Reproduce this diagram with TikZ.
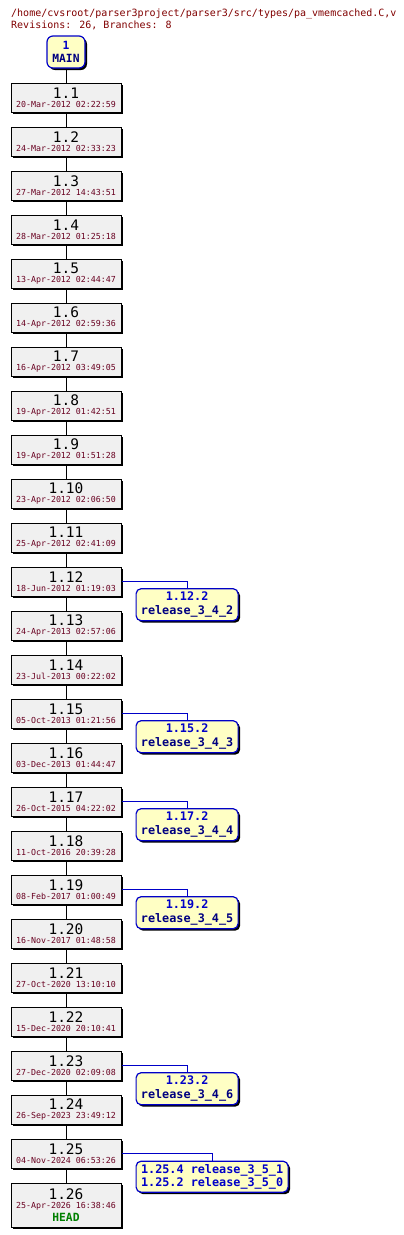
\documentclass[tikz,border=0pt]{standalone}
\usepackage{fontspec}
\setmainfont{DejaVu Sans Mono}
\usetikzlibrary{positioning, shadows}

\definecolor{titlered}{RGB}{128,0,0}
\definecolor{datered}{RGB}{104,0,32}
\definecolor{revgray}{RGB}{240,240,240}
\definecolor{tagyellow}{RGB}{255,255,196}
\definecolor{tagblue}{RGB}{0,0,200}
\definecolor{tagnavy}{RGB}{0,0,128}
\definecolor{headgreen}{RGB}{0,128,0}

\newcommand{\revfont}{\fontsize{14.5}{9.5}\selectfont}
\newcommand{\datefont}{\fontsize{8.3}{9.5}\selectfont\color{datered}}
\newcommand{\tagfont}{\fontsize{11.8}{13.5}\selectfont\bfseries}
\newcommand{\revtext}[2]{#1\\{\datefont #2}}

\begin{document}
\begin{tikzpicture}[
        x=1pt, y=-1pt,
        node distance=14pt,
        shade/.style={drop shadow={shadow xshift=2pt, shadow yshift=-2pt, opacity=1, fill=black}},
        rev/.style={rectangle, draw, line width=1pt, fill=revgray, minimum width=110pt, minimum height=29pt, inner sep=0pt, align=center, font=\revfont, shade},
        tag/.style={rectangle, rounded corners=5pt, draw=tagblue, line width=1.2pt, fill=tagyellow, minimum width=102pt, minimum height=32pt, inner sep=0pt, align=center, font=\tagfont, shade},
        link/.style={draw, line width=1pt},
        branchlink/.style={draw=tagblue, line width=1pt}
    ]
    \useasboundingbox (0,0) rectangle (404,1235);

    % Header
    \node[anchor=base west, font=\fontsize{10}{12}\selectfont, text=titlered, inner sep=0pt] (path) at (11,16) {/home/cvsroot/parser3project/parser3/src/types/pa\_vmemcached.C,v};
    \node[anchor=base west, font=\fontsize{10}{12}\selectfont, text=titlered, inner sep=0pt] (count) at (11,28) {Revisions: 26, Branches: 8};

    % Trunk head
    \node[tag, rounded corners=6pt, minimum width=38pt, minimum height=32pt, font=\fontsize{11.3}{13}\selectfont\bfseries] (main) at (66,52) {{\color{tagblue}1}\\{\color{tagnavy}MAIN}};

    % Revisions on the trunk
    \node[rev, below=of main] (r1) {\revtext{1.1}{20-Mar-2012 02:22:59}};
    \node[rev, below=of r1] (r2) {\revtext{1.2}{24-Mar-2012 02:33:23}};
    \node[rev, below=of r2] (r3) {\revtext{1.3}{27-Mar-2012 14:43:51}};
    \node[rev, below=of r3] (r4) {\revtext{1.4}{28-Mar-2012 01:25:18}};
    \node[rev, below=of r4] (r5) {\revtext{1.5}{13-Apr-2012 02:44:47}};
    \node[rev, below=of r5] (r6) {\revtext{1.6}{14-Apr-2012 02:59:36}};
    \node[rev, below=of r6] (r7) {\revtext{1.7}{16-Apr-2012 03:49:05}};
    \node[rev, below=of r7] (r8) {\revtext{1.8}{19-Apr-2012 01:42:51}};
    \node[rev, below=of r8] (r9) {\revtext{1.9}{19-Apr-2012 01:51:28}};
    \node[rev, below=of r9] (r10) {\revtext{1.10}{23-Apr-2012 02:06:50}};
    \node[rev, below=of r10] (r11) {\revtext{1.11}{25-Apr-2012 02:41:09}};
    \node[rev, below=of r11] (r12) {\revtext{1.12}{18-Jun-2012 01:19:03}};
    \node[rev, below=of r12] (r13) {\revtext{1.13}{24-Apr-2013 02:57:06}};
    \node[rev, below=of r13] (r14) {\revtext{1.14}{23-Jul-2013 00:22:02}};
    \node[rev, below=of r14] (r15) {\revtext{1.15}{05-Oct-2013 01:21:56}};
    \node[rev, below=of r15] (r16) {\revtext{1.16}{03-Dec-2013 01:44:47}};
    \node[rev, below=of r16] (r17) {\revtext{1.17}{26-Oct-2015 04:22:02}};
    \node[rev, below=of r17] (r18) {\revtext{1.18}{11-Oct-2016 20:39:28}};
    \node[rev, below=of r18] (r19) {\revtext{1.19}{08-Feb-2017 01:00:49}};
    \node[rev, below=of r19] (r20) {\revtext{1.20}{16-Nov-2017 01:48:58}};
    \node[rev, below=of r20] (r21) {\revtext{1.21}{27-Oct-2020 13:10:10}};
    \node[rev, below=of r21] (r22) {\revtext{1.22}{15-Dec-2020 20:10:41}};
    \node[rev, below=of r22] (r23) {\revtext{1.23}{27-Dec-2020 02:09:08}};
    \node[rev, below=of r23] (r24) {\revtext{1.24}{26-Sep-2023 23:49:12}};
    \node[rev, below=of r24] (r25) {\revtext{1.25}{04-Nov-2024 06:53:26}};
    \node[rev, minimum height=44pt, below=of r25] (r26) {\revtext{1.26}{25-Apr-2026 16:38:46}\\[2.5pt]{\fontsize{11.3}{13}\selectfont\bfseries\color{headgreen}HEAD}};

    % Branch tags
    \node[tag, below right=6.5pt and 14pt of r12.east] (b12) {{\color{tagblue}1.12.2}\\{\color{tagnavy}release\_3\_4\_2}};
    \node[tag, below right=6.5pt and 14pt of r15.east] (b15) {{\color{tagblue}1.15.2}\\{\color{tagnavy}release\_3\_4\_3}};
    \node[tag, below right=6.5pt and 14pt of r17.east] (b17) {{\color{tagblue}1.17.2}\\{\color{tagnavy}release\_3\_4\_4}};
    \node[tag, below right=6.5pt and 14pt of r19.east] (b19) {{\color{tagblue}1.19.2}\\{\color{tagnavy}release\_3\_4\_5}};
    \node[tag, below right=6.5pt and 14pt of r23.east] (b23) {{\color{tagblue}1.23.2}\\{\color{tagnavy}release\_3\_4\_6}};
    \node[tag, minimum width=152pt, minimum height=31pt, below right=7pt and 14pt of r25.east] (b25) {{\color{tagblue}1.25.4 release\_3\_5\_1}\\{\color{tagblue}1.25.2 release\_3\_5\_0}};

    % Trunk links
    \draw[link] (main) -- (r1);
    \draw[link] (r1) -- (r2);
    \draw[link] (r2) -- (r3);
    \draw[link] (r3) -- (r4);
    \draw[link] (r4) -- (r5);
    \draw[link] (r5) -- (r6);
    \draw[link] (r6) -- (r7);
    \draw[link] (r7) -- (r8);
    \draw[link] (r8) -- (r9);
    \draw[link] (r9) -- (r10);
    \draw[link] (r10) -- (r11);
    \draw[link] (r11) -- (r12);
    \draw[link] (r12) -- (r13);
    \draw[link] (r13) -- (r14);
    \draw[link] (r14) -- (r15);
    \draw[link] (r15) -- (r16);
    \draw[link] (r16) -- (r17);
    \draw[link] (r17) -- (r18);
    \draw[link] (r18) -- (r19);
    \draw[link] (r19) -- (r20);
    \draw[link] (r20) -- (r21);
    \draw[link] (r21) -- (r22);
    \draw[link] (r22) -- (r23);
    \draw[link] (r23) -- (r24);
    \draw[link] (r24) -- (r25);
    \draw[link] (r25) -- (r26);

    % Branch links
    \draw[branchlink] (r12.east) -| (b12.north);
    \draw[branchlink] (r15.east) -| (b15.north);
    \draw[branchlink] (r17.east) -| (b17.north);
    \draw[branchlink] (r19.east) -| (b19.north);
    \draw[branchlink] (r23.east) -| (b23.north);
    \draw[branchlink] (r25.east) -| (b25.north);

\end{tikzpicture}
\end{document}
